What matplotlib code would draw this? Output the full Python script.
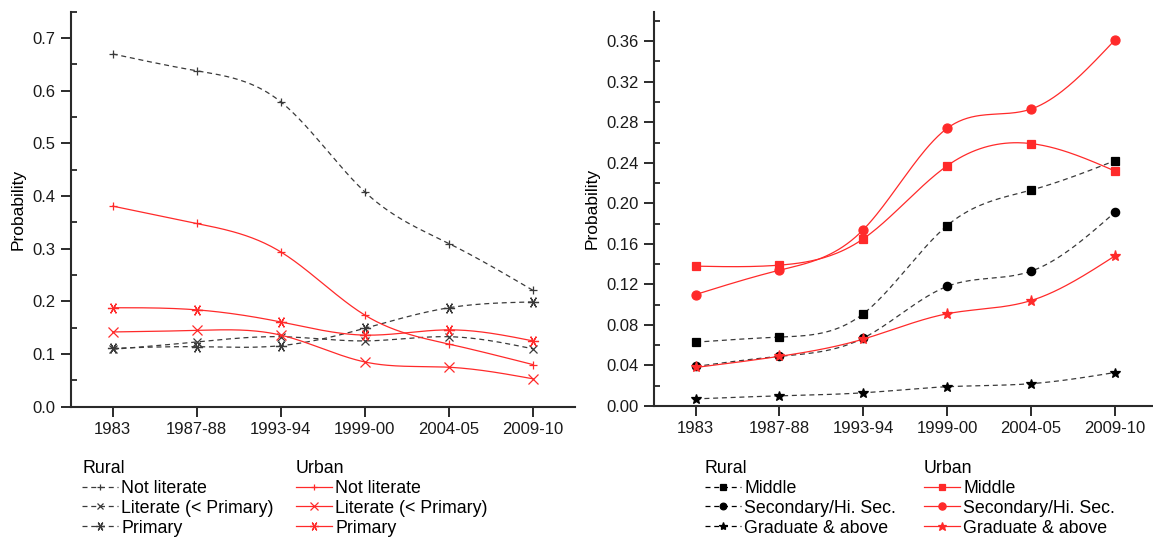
import matplotlib
matplotlib.use("Agg")
import matplotlib.pyplot as plt
from matplotlib.lines import Line2D
from matplotlib.ticker import MultipleLocator
import numpy as np

plt.rcParams["font.family"] = ["Liberation Sans", "DejaVu Sans"]

years = ["1983", "1987-88", "1993-94", "1999-00", "2004-05", "2009-10"]

# left panel: below-middle education levels
rural_not_lit = [0.670, 0.638, 0.579, 0.408, 0.310, 0.221]
rural_lit = [0.109, 0.123, 0.133, 0.125, 0.133, 0.110]
rural_primary = [0.111, 0.114, 0.116, 0.149, 0.188, 0.199]
urban_not_lit = [0.381, 0.348, 0.294, 0.174, 0.119, 0.080]
urban_lit = [0.142, 0.145, 0.136, 0.085, 0.075, 0.053]
urban_primary = [0.188, 0.184, 0.161, 0.136, 0.146, 0.125]

# right panel: middle and higher
rural_middle = [0.063, 0.068, 0.091, 0.178, 0.213, 0.242]
rural_secondary = [0.039, 0.049, 0.067, 0.118, 0.133, 0.191]
rural_grad = [0.007, 0.010, 0.013, 0.019, 0.022, 0.033]
urban_middle = [0.138, 0.139, 0.165, 0.237, 0.259, 0.232]
urban_secondary = [0.110, 0.134, 0.174, 0.274, 0.293, 0.361]
urban_grad = [0.038, 0.049, 0.066, 0.091, 0.104, 0.148]

RED = "#ff2a2a"
GREY = "#3a3a3a"
ASTER = (6, 2, 90)


def spline(x, y, n=200):
    # natural cubic spline through the points
    x = np.asarray(x, float)
    y = np.asarray(y, float)
    k = len(x)
    h = np.diff(x)
    A = np.zeros((k, k))
    b = np.zeros(k)
    A[0, 0] = A[-1, -1] = 1
    for i in range(1, k - 1):
        A[i, i - 1] = h[i - 1]
        A[i, i] = 2 * (h[i - 1] + h[i])
        A[i, i + 1] = h[i]
        b[i] = 6 * ((y[i + 1] - y[i]) / h[i] - (y[i] - y[i - 1]) / h[i - 1])
    M = np.linalg.solve(A, b)
    xs = np.linspace(x[0], x[-1], n)
    idx = np.clip(np.searchsorted(x, xs) - 1, 0, k - 2)
    x0, x1 = x[idx], x[idx + 1]
    hh = x1 - x0
    ys = (M[idx] * (x1 - xs) ** 3 / (6 * hh) + M[idx + 1] * (xs - x0) ** 3 / (6 * hh)
          + (y[idx] / hh - M[idx] * hh / 6) * (x1 - xs)
          + (y[idx + 1] / hh - M[idx + 1] * hh / 6) * (xs - x0))
    return xs, ys


def series(ax, vals, color, ls, marker, ms, filled=False):
    xi = np.arange(len(vals))
    xs, ys = spline(xi, vals)
    dash = (0, (4, 3)) if ls == "--" else "-"
    ax.plot(xs, ys, color=color, lw=0.9, ls=dash)
    mfc = color if filled else "none"
    ax.plot(xi, vals, ls="none", marker=marker, ms=ms, color=color,
            mfc=mfc, mec=color, mew=0.9)
    return Line2D([], [], color=color, lw=0.9, ls=dash, marker=marker,
                  ms=ms * 0.8, mfc=mfc, mec=color, mew=0.9)


def style(ax, ymax, major, minor, fmt):
    ax.set_xlim(-0.5, 5.5)
    ax.set_ylim(0, ymax)
    ax.set_xticks(range(len(years)))
    ax.set_xticklabels(years)
    ax.yaxis.set_major_locator(MultipleLocator(major))
    ax.yaxis.set_minor_locator(MultipleLocator(minor))
    ax.yaxis.set_major_formatter(fmt)
    for s in ("top", "right"):
        ax.spines[s].set_visible(False)
    for s in ("left", "bottom"):
        ax.spines[s].set_linewidth(1.5)
        ax.spines[s].set_color("#2a2a2a")
    ax.tick_params(axis="both", which="major", direction="out", length=7,
                   width=1.3, labelsize=12, colors="#1a1a1a", pad=4)
    ax.tick_params(axis="y", which="minor", direction="in", length=4, width=1.1)
    ax.tick_params(axis="x", which="minor", bottom=False)
    ax.set_ylabel("Probability", fontsize=12.5, labelpad=5)


def legends(fig, rural_h, urban_h, labels, x_rural, x_urban):
    y = 1 - 460 / 538
    for hs, title, x in ((rural_h, "Rural", x_rural), (urban_h, "Urban", x_urban)):
        fig.legend(hs, labels, title=title,
                   loc="upper left", bbox_to_anchor=(x, y), frameon=False,
                   fontsize=12.8, title_fontsize=12.8, alignment="left",
                   handlelength=2.0, handletextpad=0.2, labelspacing=0.16,
                   borderpad=0, borderaxespad=0)


fig = plt.figure(figsize=(11.53, 5.38), dpi=100)
ax1 = fig.add_axes([0.0613, 0.244, 0.4374, 0.734])
ax2 = fig.add_axes([0.567, 0.2454, 0.4325, 0.7326])

r1 = [series(ax1, rural_not_lit, GREY, "--", "+", 6),
      series(ax1, rural_lit, GREY, "--", "x", 6),
      series(ax1, rural_primary, GREY, "--", ASTER, 8)]
u1 = [series(ax1, urban_not_lit, RED, "-", "+", 6),
      series(ax1, urban_lit, RED, "-", "x", 7),
      series(ax1, urban_primary, RED, "-", ASTER, 8)]
style(ax1, 0.75, 0.1, 0.05, "{x:.1f}")

r2 = [series(ax2, rural_middle, "black", "--", "s", 5.5, True),
      series(ax2, rural_secondary, "black", "--", "o", 6, True),
      series(ax2, rural_grad, "black", "--", "*", 7.5, True)]
u2 = [series(ax2, urban_middle, RED, "-", "s", 5.5, True),
      series(ax2, urban_secondary, RED, "-", "o", 6.5, True),
      series(ax2, urban_grad, RED, "-", "*", 8, True)]
for ln in ax2.lines[::2]:
    if ln.get_color() == "black":
        ln.set_color(GREY)
style(ax2, 0.389, 0.04, 0.02, "{x:.2f}")
ax2.set_xlim(-0.5, 5.45)

legends(fig, r1, u1, ["Not literate", "Literate (< Primary)", "Primary"],
        82 / 1153, 296 / 1153)
legends(fig, r2, u2, ["Middle", "Secondary/Hi. Sec.", "Graduate & above"],
        705 / 1153, 924 / 1153)

fig.savefig("out.png", dpi=100)
